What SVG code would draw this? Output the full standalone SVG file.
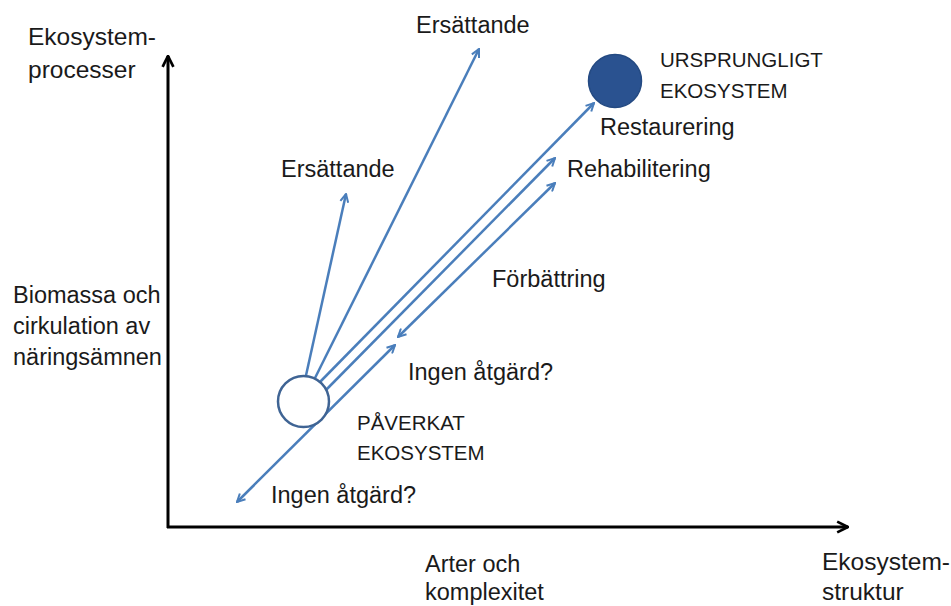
<svg xmlns="http://www.w3.org/2000/svg" width="951" height="606" viewBox="0 0 951 606">
<style>
text{font-family:"Liberation Sans",Arial,sans-serif;fill:#1a1a1a;font-size:23.5px}
.ax{font-size:24.5px}
.cap{font-size:20.5px}
.conn{stroke:#4A7EBB;stroke-width:2.5;fill:none}
.axis{stroke:#000;stroke-width:3;fill:none}
</style>
<defs>
<marker id="ah" viewBox="0 0 10 10" refX="9" refY="5" markerWidth="4" markerHeight="4" orient="auto-start-reverse" markerUnits="strokeWidth">
<path d="M1,1 L9,5 L1,9" fill="none" stroke="#4A7EBB" stroke-width="2"/>
</marker>
<marker id="axh" viewBox="0 0 10 10" refX="9" refY="5" markerWidth="4.5" markerHeight="4.5" orient="auto" markerUnits="strokeWidth">
<path d="M1,1 L9,5 L1,9" fill="none" stroke="#000" stroke-width="2"/>
</marker>
</defs>
<g id="axes">
<line class="axis" x1="168" y1="528" x2="168" y2="56" marker-end="url(#axh)"/>
<line class="axis" x1="167" y1="527" x2="848" y2="527" marker-end="url(#axh)"/>
</g>
<g id="connectors">
<line class="conn" x1="305" y1="380" x2="346" y2="194" marker-end="url(#ah)"/>
<line class="conn" x1="314" y1="380" x2="479" y2="49" marker-end="url(#ah)"/>
<line class="conn" x1="318" y1="384" x2="594" y2="103" marker-end="url(#ah)"/>
<line class="conn" x1="324" y1="392" x2="555" y2="158" marker-end="url(#ah)"/>
<line class="conn" x1="398" y1="337" x2="555" y2="183" marker-start="url(#ah)" marker-end="url(#ah)"/>
<line class="conn" x1="237" y1="502" x2="395" y2="345" marker-start="url(#ah)" marker-end="url(#ah)"/>
</g>
<g id="paverkat">
<circle cx="303.5" cy="401.5" r="25.5" fill="#fff" stroke="#3F6494" stroke-width="2.5"/>
<text class="cap" x="357" y="430">PÅVERKAT</text>
<text class="cap" x="357" y="460">EKOSYSTEM</text>
</g>
<g id="ursprungligt">
<circle cx="615" cy="81" r="26.5" fill="#2A5290" stroke="#244A82" stroke-width="1.5"/>
<text class="cap" x="660" y="67">URSPRUNGLIGT</text>
<text class="cap" x="660" y="98">EKOSYSTEM</text>
</g>
<g id="labels">
<text class="ax" x="28" y="45">Ekosystem-</text>
<text class="ax" x="28" y="78">processer</text>
<text class="ax" x="822" y="570">Ekosystem-</text>
<text class="ax" x="822" y="600">struktur</text>
<text x="425" y="572">Arter och</text>
<text x="425" y="600">komplexitet</text>
<text x="13" y="303">Biomassa och</text>
<text x="13" y="334">cirkulation av</text>
<text x="13" y="365">näringsämnen</text>
<text x="416" y="33">Ersättande</text>
<text x="281" y="177">Ersättande</text>
<text x="600" y="135">Restaurering</text>
<text x="567" y="177">Rehabilitering</text>
<text x="492" y="287">Förbättring</text>
<text x="408" y="380">Ingen åtgärd?</text>
<text x="271" y="503">Ingen åtgärd?</text>
</g>
</svg>
